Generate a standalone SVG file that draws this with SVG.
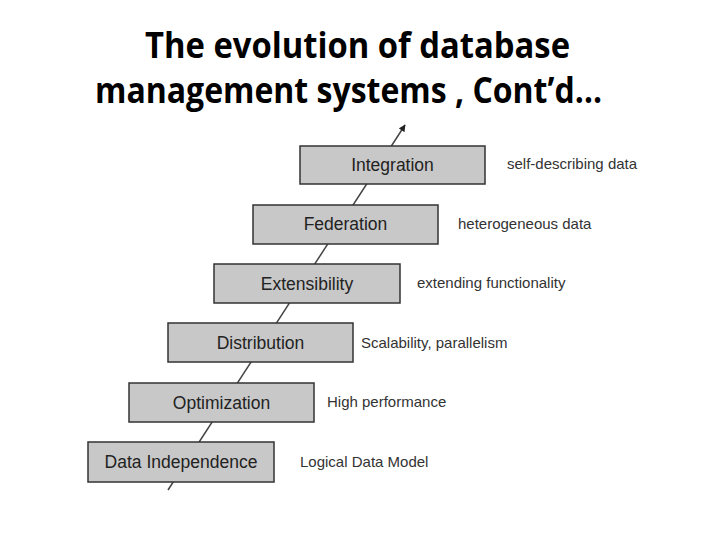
<svg xmlns="http://www.w3.org/2000/svg" width="720" height="540" viewBox="0 0 720 540">
<defs>
<style>
.title{font-family:"Open Sans","Liberation Sans",sans-serif;font-weight:bold;font-size:35px;fill:#000}
.box{fill:#c8c8c8;stroke:#333;stroke-width:1.5}
.bt{font-family:"Liberation Sans",Arial,sans-serif;font-size:17.5px;fill:#222;text-anchor:middle}
.lb{font-family:"Liberation Sans",Arial,sans-serif;font-size:15px;fill:#333}
.conn{stroke:#444;stroke-width:1.5;fill:none}
</style>
<marker id="ah" viewBox="0 0 10 10" refX="9" refY="5" markerWidth="7" markerHeight="7" orient="auto" markerUnits="userSpaceOnUse">
<path d="M0,0 L10,5 L0,10 z" fill="#222"/>
</marker>
</defs>
<rect width="720" height="540" fill="#fff"/>
<text class="title" x="145" y="58" textLength="425" lengthAdjust="spacingAndGlyphs">The evolution of database</text>
<text class="title" x="95" y="103" textLength="507" lengthAdjust="spacingAndGlyphs">management systems , Cont’d…</text>
<g id="connectors">
<line class="conn" x1="168" y1="490" x2="405" y2="125" marker-end="url(#ah)"/>
</g>
<g id="n-integration"><rect class="box" x="300" y="146" width="185" height="38"/><text class="bt" x="392.5" y="171">Integration</text><text class="lb" x="507" y="169">self-describing data</text></g>
<g id="n-federation"><rect class="box" x="253" y="205" width="185" height="39"/><text class="bt" x="345.5" y="230">Federation</text><text class="lb" x="458" y="229">heterogeneous data</text></g>
<g id="n-extensibility"><rect class="box" x="214" y="264" width="186" height="39"/><text class="bt" x="307" y="290">Extensibility</text><text class="lb" x="417" y="288">extending functionality</text></g>
<g id="n-distribution"><rect class="box" x="168" y="323" width="185" height="39"/><text class="bt" x="260.5" y="349">Distribution</text><text class="lb" x="361" y="348">Scalability, parallelism</text></g>
<g id="n-optimization"><rect class="box" x="129" y="383" width="185" height="39"/><text class="bt" x="221.5" y="409">Optimization</text><text class="lb" x="327" y="407">High performance</text></g>
<g id="n-dataindependence"><rect class="box" x="88" y="442" width="186" height="40"/><text class="bt" x="181" y="468">Data Independence</text><text class="lb" x="300" y="467">Logical Data Model</text></g>
</svg>
